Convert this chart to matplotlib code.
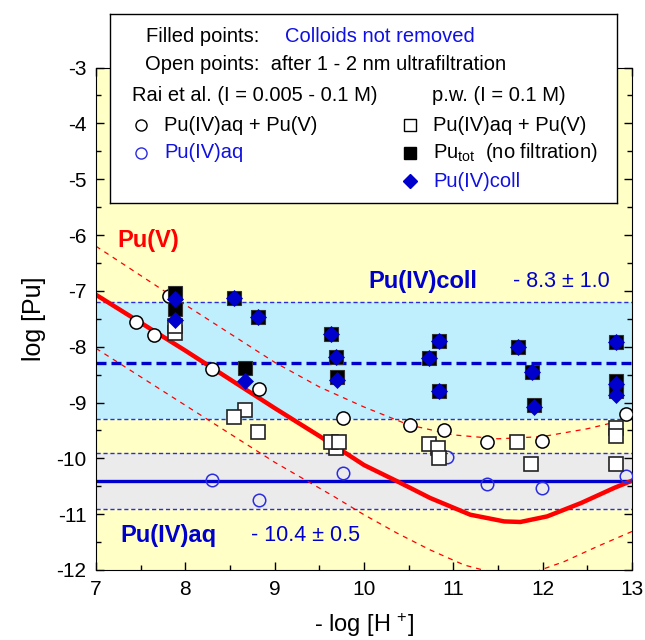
import matplotlib
matplotlib.use("Agg")
import matplotlib.pyplot as plt
from matplotlib.ticker import MultipleLocator

plt.rcParams['font.family'] = ['Liberation Sans', 'DejaVu Sans']
plt.rcParams['axes.unicode_minus'] = False
plt.rcParams['mathtext.fontset'] = 'custom'
plt.rcParams['mathtext.rm'] = 'Liberation Sans'
plt.rcParams['mathtext.it'] = 'Liberation Sans'

# ---- data ----
# Rai et al., open circles: Pu(IV)aq + Pu(V)
rai_tot_x = [7.45, 7.65, 7.82, 8.30, 8.83, 9.77, 10.51, 10.90, 11.38, 11.99, 12.93]
rai_tot_y = [-7.56, -7.79, -7.10, -8.40, -8.76, -9.27, -9.41, -9.50, -9.71, -9.69, -9.20]
# Rai et al., blue open circles: Pu(IV)aq
rai_aq_x = [8.30, 8.83, 9.77, 10.93, 11.38, 11.99, 12.93]
rai_aq_y = [-10.38, -10.75, -10.26, -9.97, -10.46, -10.54, -10.32]
# p.w., open squares: Pu(IV)aq + Pu(V) after ultrafiltration
pw_uf_x = [7.88, 7.88, 8.67, 8.55, 8.81, 9.69, 9.63, 9.72, 10.73, 10.83, 10.84, 11.71, 11.87, 12.82, 12.82, 12.82]
pw_uf_y = [-7.75, -7.63, -9.13, -9.26, -9.52, -9.82, -9.70, -9.70, -9.75, -9.81, -9.99, -9.71, -10.10, -9.45, -9.60, -10.10]
# p.w., filled squares: Pu_tot (no filtration)
pw_tot_x = [7.88, 7.88, 8.55, 8.81, 8.67, 9.63, 9.69, 9.70, 10.84, 10.73, 10.84, 11.72, 11.88, 11.90, 12.82, 12.82, 12.82]
pw_tot_y = [-7.03, -7.33, -7.13, -7.47, -8.38, -7.77, -8.19, -8.54, -7.90, -8.21, -8.79, -8.01, -8.46, -9.05, -7.92, -8.62, -8.80]
# p.w., blue diamonds: Pu(IV)coll
pw_coll_x = [7.88, 7.88, 8.55, 8.81, 8.67, 9.63, 9.69, 9.70, 10.84, 10.73, 10.84, 11.72, 11.88, 11.90, 12.82, 12.82, 12.82]
pw_coll_y = [-7.15, -7.52, -7.13, -7.47, -8.61, -7.77, -8.19, -8.60, -7.90, -8.21, -8.79, -8.01, -8.46, -9.08, -7.92, -8.66, -8.86]

# Pu(V) curve and its uncertainty envelope
puv_x = [7.0, 8.0, 9.0, 9.5, 9.77, 10.0, 10.37, 10.74, 11.19, 11.57, 11.75, 12.05, 12.43, 12.80, 13.0]
puv_y = [-7.07, -8.07, -9.10, -9.60, -9.88, -10.12, -10.41, -10.71, -11.01, -11.13, -11.14, -11.04, -10.80, -10.53, -10.40]
puv_hi_x = [7.0, 8.0, 9.0, 9.5, 10.0, 10.5, 11.0, 11.5, 12.0, 12.5, 13.0]
puv_hi_y = [-6.20, -7.25, -8.28, -8.72, -9.08, -9.40, -9.58, -9.65, -9.61, -9.47, -9.28]
puv_lo_x = [7.0, 8.0, 9.0, 9.66, 10.0, 10.37, 10.74, 11.12, 11.45, 11.7, 11.94, 12.24, 12.61, 13.0]
puv_lo_y = [-8.03, -9.05, -10.07, -10.68, -11.01, -11.34, -11.64, -11.91, -12.05, -12.08, -12.02, -11.85, -11.58, -11.31]

# mean levels and bands
coll_mean, coll_lo, coll_hi = -8.3, -9.3, -7.2
aq_mean, aq_lo, aq_hi = -10.4, -10.9, -9.9

BLUE = '#0000CC'
LBLUE = '#2B2BE0'
TBLUE = '#1010E0'
RED = '#FF0000'

fig = plt.figure(figsize=(6.45, 6.4), dpi=100)
ax = fig.add_axes([0.1488, 0.1094, 0.8311, 0.785])
ax.set_facecolor('#FFFFC6')
ax.set_xlim(7, 13)
ax.set_ylim(-12, -3)

# bands
ax.axhspan(coll_lo, coll_hi, color='#BFEFFC', lw=0, zorder=0.5)
ax.axhspan(aq_lo, aq_hi, color='#EBEBEB', lw=0, zorder=0.5)
for yv in (coll_lo, coll_hi, aq_lo, aq_hi):
    ax.axhline(yv, color=LBLUE, lw=1.0, ls=(0, (3, 2)), zorder=1)
ax.axhline(coll_mean, color=BLUE, lw=2.4, ls=(0, (3, 1.5)), zorder=1)
ax.axhline(aq_mean, color=BLUE, lw=2.4, zorder=1)

# Pu(V) model
ax.plot(puv_x, puv_y, color=RED, lw=3.2, zorder=2)
ax.plot(puv_hi_x, puv_hi_y, color=RED, lw=0.9, ls=(0, (4, 4)), zorder=2)
ax.plot(puv_lo_x, puv_lo_y, color=RED, lw=0.9, ls=(0, (4, 4)), zorder=2)

# points
ax.plot(rai_aq_x, rai_aq_y, 'o', ms=9, mfc='none', mec=LBLUE, mew=1.1, zorder=3)
ax.plot(rai_tot_x, rai_tot_y, 'o', ms=9.5, mfc='white', mec='black', mew=1.1, zorder=3)
ax.plot(pw_uf_x, pw_uf_y, 's', ms=10, mfc='white', mec='#222222', mew=1.2, zorder=4)
ax.plot(pw_tot_x, pw_tot_y, 's', ms=10, mfc='black', mec='#333333', mew=0.8, zorder=5)
ax.plot(pw_coll_x, pw_coll_y, 'D', ms=8, mfc=BLUE, mec=BLUE, mew=0.5, zorder=6)

# annotations
ax.text(7.24, -6.09, 'Pu(V)', color=RED, fontsize=17, fontweight='bold', va='center')
ax.text(10.05, -6.83, 'Pu(IV)coll', color=BLUE, fontsize=17, fontweight='bold', va='center')
ax.text(11.67, -6.83, '- 8.3 \u00b1 1.0', color=BLUE, fontsize=15.5, va='center')
ax.text(7.27, -11.38, 'Pu(IV)aq', color=BLUE, fontsize=17, fontweight='bold', va='center')
ax.text(8.73, -11.38, '- 10.4 \u00b1 0.5', color=BLUE, fontsize=15.5, va='center')

# axes styling
ax.xaxis.set_major_locator(MultipleLocator(1))
ax.xaxis.set_minor_locator(MultipleLocator(0.5))
ax.yaxis.set_major_locator(MultipleLocator(1))
ax.yaxis.set_minor_locator(MultipleLocator(0.5))
ax.tick_params(which='both', direction='in', top=True, right=True, width=1)
ax.tick_params(which='major', length=6, labelsize=15, pad=7)
ax.tick_params(which='minor', length=3.5)
ax.set_xlabel('- log [H $^{+}$]', fontsize=17, labelpad=9)
ax.set_ylabel('log [Pu]', fontsize=18, labelpad=7)

# legend box, drawn over the top of the axes
lg = fig.add_axes([0.1705, 0.6828, 0.786, 0.296])
lg.set_xlim(110, 617)
lg.set_ylim(203, 13.5)
lg.set_xticks([])
lg.set_yticks([])
lg.set_facecolor('white')
for s in lg.spines.values():
    s.set_linewidth(1.0)

FS = 14.5
lg.text(146, 36.7, 'Filled points:', fontsize=FS, va='center')
lg.text(285, 36.7, 'Colloids not removed', fontsize=FS, va='center', color=TBLUE)
lg.text(145, 64.3, 'Open points:  after 1 - 2 nm ultrafiltration', fontsize=FS, va='center')
lg.text(132, 95.7, 'Rai et al. (I = 0.005 - 0.1 M)', fontsize=FS, va='center')
lg.text(432, 95.7, 'p.w. (I = 0.1 M)', fontsize=FS, va='center')
lg.plot([141.5], [125], 'o', ms=8, mfc='white', mec='black', mew=1.0)
lg.text(164, 125, 'Pu(IV)aq + Pu(V)', fontsize=FS, va='center')
lg.plot([141.5], [152.7], 'o', ms=8, mfc='white', mec=LBLUE, mew=1.0)
lg.text(164, 152.7, 'Pu(IV)aq', fontsize=FS, va='center', color=TBLUE)
lg.plot([410.5], [125], 's', ms=8, mfc='white', mec='black', mew=1.0)
lg.text(433, 125, 'Pu(IV)aq + Pu(V)', fontsize=FS, va='center')
lg.plot([410.5], [152.7], 's', ms=8, mfc='black', mec='black')
lg.text(433, 152.7, 'Pu$_{\\mathrm{tot}}$  (no filtration)', fontsize=FS, va='center')
lg.plot([410.5], [181], 'D', ms=7, mfc=BLUE, mec=BLUE)
lg.text(433, 181, 'Pu(IV)coll', fontsize=FS, va='center', color=TBLUE)

fig.savefig('out.png', dpi=100)
